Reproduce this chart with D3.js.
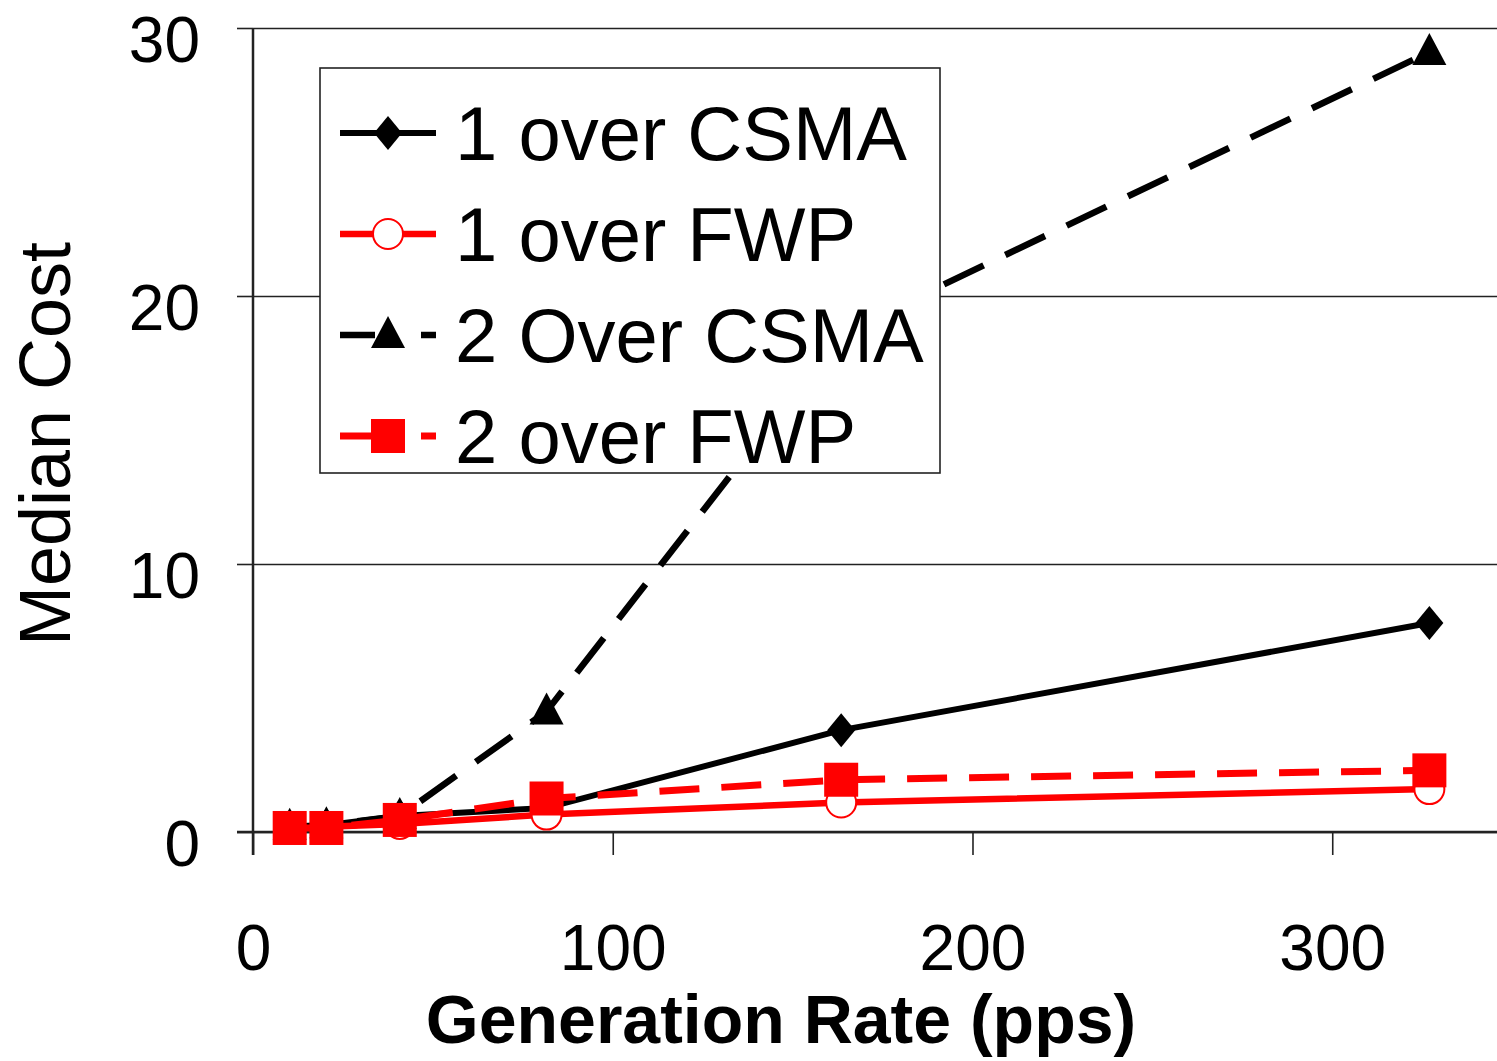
<!DOCTYPE html>
<html>
    <head>
        <meta charset="utf-8">
        <script src="https://cdn.jsdelivr.net/npm/d3@7"></script>
        <style>
            body { margin: 0; background: white; }
            text { font-family: "Liberation Sans", Arial, sans-serif; }
        </style>
        <script>
            // data
            const rates = [10.2, 20.4, 40.8, 81.6, 163.5, 327];
            const oneOverCsma = [0.2, 0.25, 0.6, 0.9, 3.8, 7.8];
            const oneOverFwp = [0.2, 0.2, 0.3, 0.65, 1.1, 1.6];
            const twoOverCsma = [0.2, 0.25, 0.6, 4.5, 18.6, 29.1];
            const twoOverFwp = [0.15, 0.15, 0.45, 1.25, 1.95, 2.3];
            const seriesNames = ["1 over CSMA", "1 over FWP", "2 Over CSMA", "2 over FWP"];
            const xTicks = [0, 100, 200, 300];
            const yTicks = [0, 10, 20, 30];

            function makeSVG() {

                const left = 253, right = 1497, top = 28, bottom = 832;

                var x = d3.scaleLinear().domain([0, 345.8]).range([left, right]);
                var y = d3.scaleLinear().domain([0, 30]).range([bottom, top]);

                var svg = d3.select("#fig");

                // grid lines
                svg.append("g")
                   .attr("transform", "translate(" + left + ",0)")
                   .call(d3.axisLeft(y).tickValues(yTicks).tickSize(-(right - left)).tickSizeOuter(0).tickFormat(""))
                   .call(g => g.select(".domain").remove())
                   .selectAll("line").attr("stroke", "#222").attr("stroke-width", 1.6);

                // y axis
                var yAxis = svg.append("g")
                   .attr("transform", "translate(" + left + ",0)")
                   .call(d3.axisLeft(y).tickValues(yTicks).tickSize(16).tickSizeOuter(0));
                yAxis.select(".domain").attr("stroke", "#222").attr("stroke-width", 2.5).attr("d", "M0," + (top) + "V" + (bottom + 23));
                yAxis.selectAll("line").attr("stroke", "#222").attr("stroke-width", 1.6);
                yAxis.selectAll("text")
                     .attr("x", -53)
                     .attr("dy", "0.53em")
                     .attr("font-size", "64px")
                     .attr("font-family", "Liberation Sans, Arial, sans-serif")
                     .attr("fill", "black");

                // x axis
                var xAxis = svg.append("g")
                   .attr("transform", "translate(0," + bottom + ")")
                   .call(d3.axisBottom(x).tickValues(xTicks).tickSize(23).tickSizeOuter(0));
                xAxis.select(".domain").attr("stroke", "#222").attr("stroke-width", 2.5).attr("d", "M" + (left - 16) + ",0H" + right);
                xAxis.selectAll("line").attr("stroke", "#222").attr("stroke-width", 1.6);
                xAxis.selectAll("text")
                     .attr("y", 93)
                     .attr("font-size", "64px")
                     .attr("font-family", "Liberation Sans, Arial, sans-serif")
                     .attr("fill", "black");

                // axis titles
                svg.append("text")
                   .attr("x", 781).attr("y", 1043)
                   .attr("text-anchor", "middle")
                   .attr("font-size", "68px")
                   .attr("font-weight", "bold")
                   .text("Generation Rate (pps)");

                svg.append("text")
                   .attr("transform", "translate(70,444) rotate(-90)")
                   .attr("text-anchor", "middle")
                   .attr("font-size", "72px")
                   .text("Median Cost");

                // series
                var series = [
                    {name: seriesNames[0], values: oneOverCsma, color: "black", dash: null, width: 6, marker: "diamond"},
                    {name: seriesNames[1], values: oneOverFwp, color: "red", dash: null, width: 6.5, marker: "circle"},
                    {name: seriesNames[2], values: twoOverCsma, color: "black", dash: "44,24", width: 6.5, marker: "triangle"},
                    {name: seriesNames[3], values: twoOverFwp, color: "red", dash: "40,22", width: 7, marker: "square"}
                ];

                var line = d3.line().x(d => x(d[0])).y(d => y(d[1]));

                function drawMarker(g, kind, color) {
                    if (kind == "diamond") {
                        g.append("path").attr("d", "M0,-17L14,0L0,17L-14,0Z").attr("fill", color);
                    } else if (kind == "circle") {
                        g.append("circle").attr("r", 15).attr("fill", "white").attr("stroke", color).attr("stroke-width", 2);
                    } else if (kind == "triangle") {
                        g.append("path").attr("d", "M0,-19L17,13L-17,13Z").attr("fill", color);
                    } else {
                        g.append("rect").attr("x", -17).attr("y", -17).attr("width", 34).attr("height", 34).attr("fill", color);
                    }
                }

                var plot = svg.append("g");
                series.forEach(function(s) {
                    var pts = rates.map((r, i) => [r, s.values[i]]);
                    plot.append("path")
                        .attr("d", line(pts))
                        .attr("fill", "none")
                        .attr("stroke", s.color)
                        .attr("stroke-width", s.width)
                        .attr("stroke-dasharray", s.dash);
                    pts.forEach(function(p) {
                        var m = plot.append("g").attr("transform", "translate(" + x(p[0]) + "," + y(p[1]) + ")");
                        drawMarker(m, s.marker, s.color);
                    });
                });

                // legend
                var legend = svg.append("g");
                legend.append("rect")
                      .attr("x", 320).attr("y", 68)
                      .attr("width", 620).attr("height", 405)
                      .attr("fill", "white")
                      .attr("stroke", "#222")
                      .attr("stroke-width", 1.6);

                series.forEach(function(s, i) {
                    var cy = 133 + i * 101;
                    if (s.dash) {
                        legend.append("line").attr("x1", 340).attr("x2", 375).attr("y1", cy).attr("y2", cy)
                              .attr("stroke", s.color).attr("stroke-width", s.width);
                        legend.append("line").attr("x1", 421).attr("x2", 436).attr("y1", cy).attr("y2", cy)
                              .attr("stroke", s.color).attr("stroke-width", s.width);
                    } else {
                        legend.append("line").attr("x1", 340).attr("x2", 436).attr("y1", cy).attr("y2", cy)
                              .attr("stroke", s.color).attr("stroke-width", s.width);
                    }
                    drawMarker(legend.append("g").attr("transform", "translate(388," + cy + ")"), s.marker, s.color);
                    legend.append("text")
                          .attr("x", 455).attr("y", cy + 27)
                          .attr("font-size", "76px")
                          .text(s.name);
                });
            }
        </script>
    </head>
    <body onload="makeSVG()">
        <svg id="fig" width="1497" height="1061"></svg>
    </body>
</html>
